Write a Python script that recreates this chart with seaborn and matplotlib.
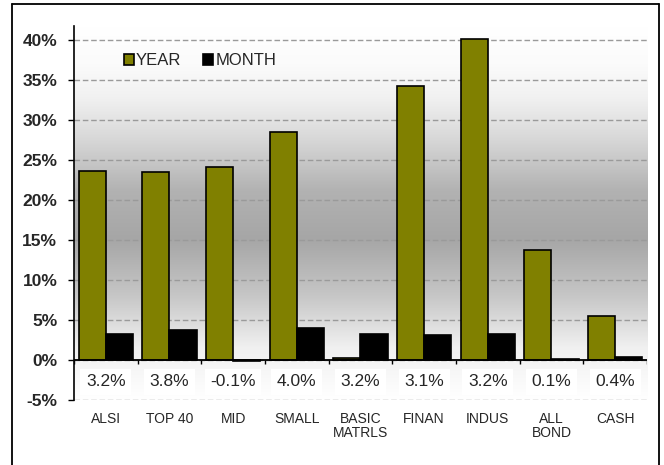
import numpy as np
import pandas as pd
import seaborn as sns
import matplotlib.pyplot as plt
from matplotlib.colors import LinearSegmentedColormap
from matplotlib.lines import Line2D

# chart values (percent)
categories = ['ALSI', 'TOP 40', 'MID', 'SMALL', 'BASIC\nMATRLS', 'FINAN', 'INDUS', 'ALL\nBOND', 'CASH']
year_vals = [23.7, 23.5, 24.1, 28.5, 0.2, 34.3, 40.2, 13.8, 5.5]
month_vals = [3.2, 3.8, -0.1, 4.0, 3.2, 3.1, 3.2, 0.1, 0.4]
y_ticks = [-5, 0, 5, 10, 15, 20, 25, 30, 35, 40]

df = pd.DataFrame({
    'cat': categories * 2,
    'val': year_vals + month_vals,
    'series': ['YEAR'] * len(categories) + ['MONTH'] * len(categories),
})

sns.set_style('white')
plt.rcParams['font.family'] = ['Liberation Sans', 'DejaVu Sans']

fig = plt.figure(figsize=(6.64, 4.65), dpi=100)
ax = fig.add_axes([0.1114, 0.1398, 0.863, 0.8042])

# gradient background (white -> grey -> white)
bg = LinearSegmentedColormap.from_list('bg', [
    (0.0, '#ffffff'), (0.10, '#fbfbfb'), (0.19, '#f1f1f1'), (0.30, '#d8d8d8'),
    (0.44, '#b2b2b2'), (0.57, '#a6a6a6'), (0.72, '#c6c6c6'), (0.86, '#f0f0f0'),
    (1.0, '#ffffff')])
grad = np.linspace(0, 1, 256).reshape(-1, 1)
ax.imshow(grad, cmap=bg, extent=[0, 1, 0, 1], transform=ax.transAxes,
          aspect='auto', zorder=-10, origin='upper')

sns.barplot(data=df, x='cat', y='val', hue='series', ax=ax, width=0.85,
            palette={'YEAR': '#808000', 'MONTH': '#000000'},
            edgecolor='black', linewidth=1.2, saturation=1, zorder=3)

ax.set_ylim(-5, 41.8)
ax.set_xlim(-0.5, len(categories) - 0.5)
ax.set_yticks(y_ticks)
ax.set_yticklabels([f'{t}%' for t in y_ticks], fontsize=12.5, fontweight='bold')
ax.set_xticks(range(len(categories)))
ax.set_xticklabels(categories, fontsize=10, linespacing=1.0)
ax.tick_params(axis='x', length=0, pad=9)
ax.tick_params(axis='y', length=4, width=1, direction='out', pad=8, color='black', left=True)
ax.set_xlabel('')
ax.set_ylabel('')

for y in y_ticks:
    ax.axhline(y, color='#9a9a9a', lw=1, ls=(0, (4, 2)), zorder=1)

for s in ['top', 'right', 'bottom']:
    ax.spines[s].set_visible(False)
ax.spines['left'].set_color('black')
ax.spines['left'].set_linewidth(1.2)

# zero axis with boundary tick marks
ax.axhline(0, color='black', lw=1.3, zorder=4)
bounds = np.arange(len(categories) + 1) - 0.5
ax.vlines(bounds, -0.45, 0, color='black', lw=1, zorder=4)

# month labels below zero line
for i, v in enumerate(month_vals):
    ax.text(i, -2.7, f'{v:.1f}%', ha='center', va='center', fontsize=12.5,
            bbox=dict(facecolor='white', edgecolor='none', pad=4), zorder=5)

leg = ax.legend(loc='upper left', bbox_to_anchor=(0.075, 0.945), ncol=2, frameon=False,
                fontsize=12, handlelength=0.6, handleheight=0.6, handletextpad=0.15,
                columnspacing=1.3, borderaxespad=0)

# outer border
fig.add_artist(Line2D([12 / 664, 12 / 664], [0, 1 - 4 / 465], color='black', lw=1.3))
fig.add_artist(Line2D([659 / 664, 659 / 664], [0, 1 - 4 / 465], color='black', lw=1.3))
fig.add_artist(Line2D([12 / 664, 659 / 664], [1 - 4 / 465, 1 - 4 / 465], color='black', lw=1.3))

fig.savefig('out.png', dpi=100)
